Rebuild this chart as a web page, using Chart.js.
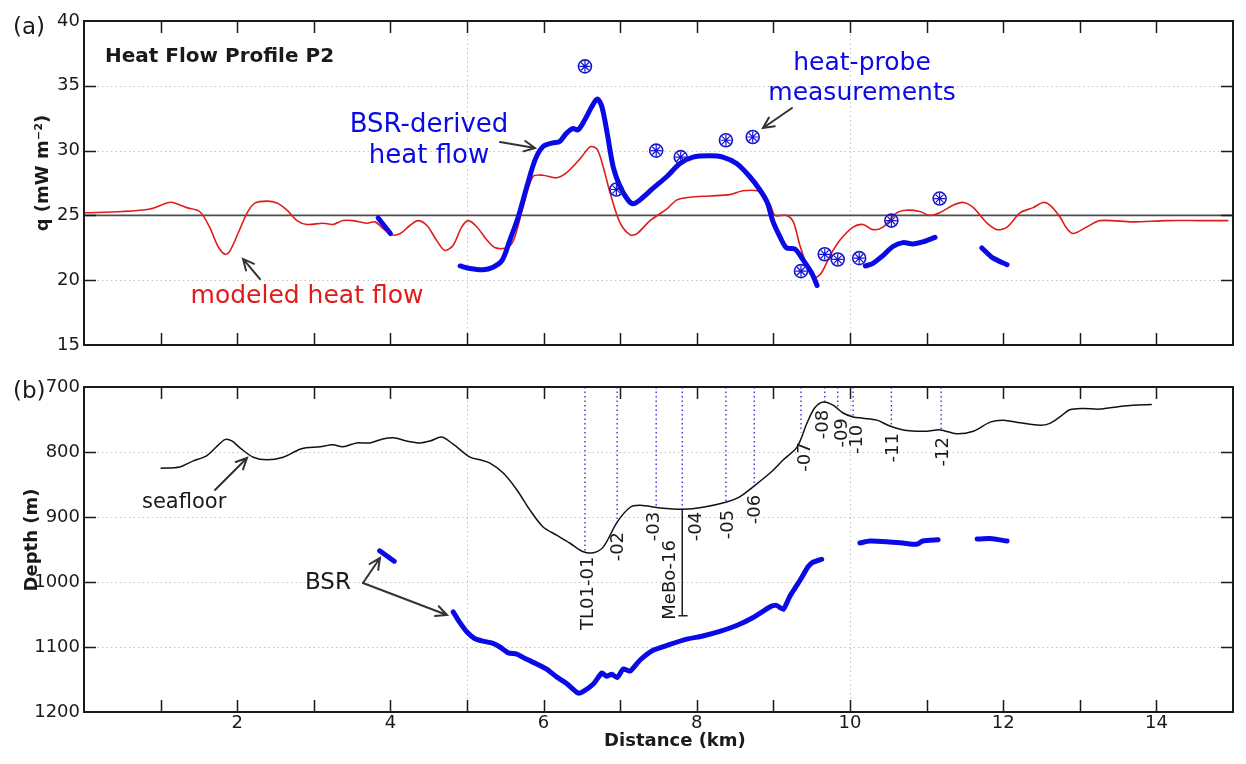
<!DOCTYPE html>
<html>
<head>
<meta charset="utf-8">
<script src="https://cdn.jsdelivr.net/npm/chart.js@4.4.1/dist/chart.umd.min.js"></script>
<style>
  html, body { margin: 0; padding: 0; background: #fff; }
  #wrap { position: relative; width: 1246px; height: 764px; }
  #chartA { position: absolute; left: 0; top: 0; }
  #chartB { position: absolute; left: 0; top: 370px; }
</style>
</head>
<body>
<div id="wrap">
  <canvas id="chartA" width="1246" height="370"></canvas>
  <canvas id="chartB" width="1246" height="394"></canvas>
</div>
<script>
// ---- data ----
// (a) modeled heat flow (mW/m2) along the profile
const modeledKm = [0, 0.5, 0.86, 1.08, 1.16, 1.34, 1.51, 1.64, 1.75, 1.84, 1.9, 2.01, 2.13, 2.23, 2.39, 2.52, 2.65, 2.78, 2.91, 3.12, 3.25, 3.38, 3.51, 3.69, 3.8, 3.9, 4.02, 4.13, 4.25, 4.36, 4.48, 4.6, 4.71, 4.82, 4.93, 5.02, 5.13, 5.26, 5.37, 5.52, 5.61, 5.73, 5.86, 5.99, 6.17, 6.3, 6.48, 6.61, 6.7, 6.78, 6.87, 7.0, 7.13, 7.22, 7.39, 7.61, 7.74, 7.91, 8.17, 8.43, 8.6, 8.79, 8.86, 8.96, 9.02, 9.17, 9.26, 9.35, 9.48, 9.54, 9.63, 9.74, 9.87, 10.04, 10.17, 10.3, 10.43, 10.61, 10.74, 10.91, 11.04, 11.17, 11.35, 11.48, 11.61, 11.79, 11.92, 12.05, 12.22, 12.39, 12.52, 12.61, 12.74, 12.83, 12.91, 13.09, 13.26, 13.69, 14.13, 14.57, 14.94];
const modeledQ = [25.2, 25.3, 25.5, 25.95, 26.0, 25.6, 25.3, 24.1, 22.6, 22.0, 22.2, 23.6, 25.2, 25.95, 26.1, 25.95, 25.4, 24.6, 24.3, 24.4, 24.3, 24.6, 24.6, 24.4, 24.5, 24.0, 23.5, 23.6, 24.2, 24.6, 24.2, 23.1, 22.3, 22.7, 24.1, 24.6, 24.1, 23.1, 22.5, 22.5, 23.1, 25.6, 28.0, 28.1, 27.9, 28.3, 29.4, 30.3, 30.1, 28.7, 26.7, 24.4, 23.5, 23.6, 24.6, 25.5, 26.2, 26.4, 26.5, 26.6, 26.9, 26.9, 26.6, 25.8, 25.0, 25.0, 24.5, 22.6, 20.5, 20.2, 20.6, 21.9, 23.1, 24.1, 24.3, 23.9, 24.1, 25.2, 25.4, 25.3, 25.0, 25.2, 25.8, 26.0, 25.6, 24.4, 23.9, 24.1, 25.2, 25.6, 26.0, 25.8, 24.9, 24.0, 23.6, 24.1, 24.6, 24.5, 24.6, 24.6, 24.6];

// (a) BSR-derived heat flow, one list per segment
const bsrFlowKm = [
  [3.84, 4.0],
  [4.91, 5.04, 5.21, 5.34, 5.46, 5.56, 5.67, 5.78, 5.89, 5.99, 6.12, 6.21, 6.3, 6.38, 6.45, 6.54, 6.63, 6.7, 6.76, 6.83, 6.91, 7.0, 7.1, 7.17, 7.26, 7.43, 7.61, 7.78, 7.95, 8.17, 8.34, 8.52, 8.69, 8.82, 8.92, 8.99, 9.09, 9.17, 9.28, 9.39, 9.5, 9.57],
  [10.2, 10.3, 10.43, 10.56, 10.69, 10.82, 10.95, 11.11],
  [11.72, 11.87, 12.05]
];
const bsrFlowQ = [
  [24.8, 23.6],
  [21.1, 20.9, 20.8, 21.0, 21.55, 23.1, 24.9, 27.2, 29.3, 30.3, 30.6, 30.7, 31.35, 31.7, 31.6, 32.4, 33.4, 33.98, 33.4, 31.35, 28.7, 27.2, 26.2, 25.9, 26.2, 27.1, 28.0, 29.0, 29.5, 29.6, 29.5, 29.0, 28.0, 27.0, 26.0, 24.6, 23.3, 22.5, 22.4, 21.55, 20.55, 19.6],
  [21.1, 21.3, 21.9, 22.6, 22.9, 22.8, 22.95, 23.3],
  [22.5, 21.7, 21.2]
];

// (a) heat-probe measurements
const probeKm = [6.54, 6.95, 7.47, 7.79, 8.38, 8.73, 9.36, 9.67, 9.84, 10.12, 10.54, 11.17];
const probeQ = [36.5, 27.0, 30.0, 29.5, 30.8, 31.05, 20.7, 22.0, 21.6, 21.7, 24.6, 26.3];

// (a) reference level
const refKm = [0, 15];
const refQ = [25, 25];

// (b) seafloor depth (m)
const seafloorKm = [1.0, 1.25, 1.42, 1.6, 1.73, 1.84, 1.93, 2.04, 2.21, 2.39, 2.6, 2.84, 3.08, 3.25, 3.38, 3.56, 3.73, 3.9, 4.04, 4.21, 4.39, 4.52, 4.67, 4.82, 5.04, 5.17, 5.3, 5.47, 5.65, 5.82, 5.99, 6.17, 6.34, 6.51, 6.65, 6.78, 6.96, 7.13, 7.26, 7.52, 7.82, 8.08, 8.39, 8.56, 8.73, 8.96, 9.13, 9.31, 9.44, 9.54, 9.65, 9.78, 9.91, 10.04, 10.17, 10.35, 10.52, 10.74, 11.0, 11.18, 11.39, 11.61, 11.83, 12.0, 12.22, 12.48, 12.61, 12.74, 12.87, 13.04, 13.26, 13.52, 13.69, 13.94];
const seafloorDepth = [825, 823, 814, 806, 792, 781, 783, 794, 808, 812, 808, 795, 792, 789, 792, 786, 786, 780, 778, 783, 786, 783, 777, 788, 808, 812, 817, 832, 858, 889, 915, 928, 940, 953, 955, 946, 908, 885, 882, 886, 888, 885, 877, 869, 854, 832, 812, 792, 755, 732, 723, 728, 740, 746, 748, 751, 760, 767, 768, 766, 772, 768, 754, 751, 755, 759, 756, 746, 735, 733, 734, 730, 728, 727];

// (b) BSR depth, one list per segment
const bsrKm = [
  [3.86, 4.05],
  [4.82, 4.91, 5.0, 5.1, 5.21, 5.33, 5.43, 5.54, 5.65, 5.78, 5.91, 6.04, 6.17, 6.3, 6.45, 6.51, 6.65, 6.76, 6.82, 6.89, 6.96, 7.04, 7.13, 7.26, 7.43, 7.65, 7.87, 8.08, 8.3, 8.52, 8.73, 8.96, 9.04, 9.13, 9.21, 9.35, 9.45, 9.51, 9.63],
  [10.13, 10.26, 10.48, 10.69, 10.87, 10.95, 11.15],
  [11.66, 11.83, 12.05]
];
const bsrDepth = [
  [952, 968],
  [1046, 1063, 1077, 1087, 1091, 1094, 1100, 1109, 1111, 1119, 1126, 1134, 1146, 1156, 1171, 1169, 1157, 1140, 1145, 1142, 1147, 1134, 1137, 1120, 1105, 1096, 1088, 1083, 1076, 1067, 1055, 1038, 1036, 1042, 1023, 997, 977, 970, 965],
  [940, 937, 938, 940, 942, 937, 935],
  [934, 933, 937]
];

// (b) heat-probe stations: position and seafloor depth there
const stationNames = ['TL01-01', '-02', '-03', '-04', '-05', '-06', '-07', '-08', '-09', '-10', '-11', '-12'];
const stationKm = [6.54, 6.96, 7.47, 7.81, 8.38, 8.75, 9.36, 9.67, 9.84, 10.04, 10.54, 11.19];
const stationFloor = [954, 908, 885, 888, 877, 853, 770, 724, 735, 746, 760, 766];

// (b) MeBo-16 borehole
const boreholeKm = 7.81;
const boreholeTop = 888;
const boreholeBottom = 1052;

// tick labels
const qTicks = [15, 20, 25, 30, 35, 40];
const depthTicks = [700, 800, 900, 1000, 1100, 1200];
const xTickLabels = [2, 4, 6, 8, 10, 12, 14];

// ---- helpers ----
const FONT = 'DejaVu Sans';
const BLUE = '#0a0ae6';
const pts = (xs, ys) => xs.map((x, i) => ({ x: x, y: ys[i] }));

function drawText(ctx, s, x, y, o) {
    ctx.save();
    ctx.translate(x, y);
    if (o.rot) ctx.rotate(o.rot);
    ctx.font = o.font;
    ctx.fillStyle = o.color || '#1a1a1a';
    ctx.textAlign = o.align || 'left';
    ctx.textBaseline = o.base || 'alphabetic';
    ctx.fillText(s, 0, 0);
    ctx.restore();
}

function drawArrow(ctx, x1, y1, x2, y2) {
    const ang = Math.atan2(y2 - y1, x2 - x1);
    const len = 12, spread = 0.45;
    ctx.save();
    ctx.strokeStyle = '#333';
    ctx.lineWidth = 2;
    ctx.lineCap = 'round';
    ctx.beginPath();
    ctx.moveTo(x1, y1);
    ctx.lineTo(x2, y2);
    ctx.moveTo(x2 - len * Math.cos(ang - spread), y2 - len * Math.sin(ang - spread));
    ctx.lineTo(x2, y2);
    ctx.lineTo(x2 - len * Math.cos(ang + spread), y2 - len * Math.sin(ang + spread));
    ctx.stroke();
    ctx.restore();
}

// dotted grid, inward ticks and box frame
const frameGrid = {
    id: 'frameGrid',
    beforeDatasetsDraw(chart, args, opts) {
        const { ctx, chartArea: a, scales: { x, y } } = chart;
        ctx.save();
        ctx.strokeStyle = '#c4c4c4';
        ctx.lineWidth = 1;
        ctx.setLineDash([1.5, 3]);
        ctx.beginPath();
        opts.yGrid.forEach(v => {
            const py = Math.round(y.getPixelForValue(v)) + 0.5;
            ctx.moveTo(a.left, py); ctx.lineTo(a.right, py);
        });
        opts.xGrid.forEach(v => {
            const px = Math.round(x.getPixelForValue(v)) + 0.5;
            ctx.moveTo(px, a.top); ctx.lineTo(px, a.bottom);
        });
        ctx.stroke();
        ctx.restore();
    },
    afterDatasetsDraw(chart, args, opts) {
        const { ctx, chartArea: a, scales: { x, y } } = chart;
        const tl = 12;
        ctx.save();
        ctx.strokeStyle = '#1a1a1a';
        ctx.lineWidth = 1.5;
        ctx.beginPath();
        for (let k = 1; k < 15; k++) {
            const px = Math.round(x.getPixelForValue(k)) + 0.5;
            ctx.moveTo(px, a.top); ctx.lineTo(px, a.top + tl);
            ctx.moveTo(px, a.bottom); ctx.lineTo(px, a.bottom - tl);
        }
        opts.yTicks.forEach(v => {
            const py = Math.round(y.getPixelForValue(v)) + 0.5;
            ctx.moveTo(a.left, py); ctx.lineTo(a.left + tl, py);
            ctx.moveTo(a.right, py); ctx.lineTo(a.right - tl, py);
        });
        ctx.stroke();
        ctx.lineWidth = 2;
        ctx.strokeRect(a.left, a.top, a.right - a.left, a.bottom - a.top);
        ctx.restore();
    }
};

// labels and arrows, placed in data units
const notes = {
    id: 'notes',
    afterDraw(chart, args, opts) {
        const { ctx, scales: { x, y } } = chart;
        opts.arrows.forEach(ar => {
            drawArrow(ctx, x.getPixelForValue(ar[0]), y.getPixelForValue(ar[1]),
                x.getPixelForValue(ar[2]), y.getPixelForValue(ar[3]));
        });
        opts.texts.forEach(t => {
            drawText(ctx, t.s, x.getPixelForValue(t.x), y.getPixelForValue(t.y), t);
        });
    }
};

// ---- panel (a) ----
const dsA = [];
dsA.push({ data: pts(probeKm, probeQ), showLine: false, pointStyle: 'star', pointRadius: 5.5,
    pointBorderColor: '#1515d0', pointBorderWidth: 1.2 });
dsA.push({ data: pts(probeKm, probeQ), showLine: false, pointStyle: 'circle', pointRadius: 6.5,
    pointBorderColor: '#1515d0', pointBackgroundColor: 'rgba(255,255,255,0)', pointBorderWidth: 1.6 });
bsrFlowKm.forEach((seg, i) => {
    dsA.push({ data: pts(seg, bsrFlowQ[i]), borderColor: BLUE, borderWidth: 5, pointRadius: 0,
        tension: 0.3, borderCapStyle: 'round', borderJoinStyle: 'round' });
});
dsA.push({ data: pts(modeledKm, modeledQ), borderColor: '#e01b1b', borderWidth: 1.6, pointRadius: 0, tension: 0.3 });
dsA.push({ data: pts(refKm, refQ), borderColor: '#4d4d4d', borderWidth: 1.6, pointRadius: 0 });

new Chart(document.getElementById('chartA'), {
    type: 'line',
    data: { datasets: dsA },
    options: {
        responsive: false,
        animation: false,
        layout: { padding: { top: 21, right: 13, bottom: 25, left: 0 } },
        plugins: {
            legend: { display: false },
            tooltip: { enabled: false },
            frameGrid: { xGrid: [5, 10], yGrid: [20, 30, 35], yTicks: qTicks.slice(1, -1) },
            notes: {
                arrows: [[5.431, 30.66, 5.888, 30.20], [9.243, 33.29, 8.864, 31.74], [2.298, 20.09, 2.076, 21.64]],
                texts: [
                    { s: '(a)', x: -0.927, y: 39.46, font: '23px ' + FONT, base: 'middle' },
                    { s: 'Heat Flow Profile P2', x: 0.274, y: 36.84, font: 'bold 20px ' + FONT },
                    { s: 'BSR-derived', x: 4.504, y: 31.44, font: '26px ' + FONT, color: BLUE, align: 'center' },
                    { s: 'heat flow', x: 4.504, y: 29.04, font: '26px ' + FONT, color: BLUE, align: 'center' },
                    { s: 'heat-probe', x: 10.157, y: 36.22, font: '25px ' + FONT, color: BLUE, align: 'center' },
                    { s: 'measurements', x: 10.157, y: 33.90, font: '25px ' + FONT, color: BLUE, align: 'center' },
                    { s: 'modeled heat flow', x: 2.911, y: 18.24, font: '25px ' + FONT, color: '#e01b1b', align: 'center' },
                    { s: 'q (mW m\u207B\u00B2)', x: -0.535, y: 28.27, font: 'bold 18px ' + FONT, align: 'center',
                        base: 'middle', rot: -Math.PI / 2 }
                ]
            }
        },
        scales: {
            x: { type: 'linear', min: 0, max: 15, display: false },
            y: {
                min: 15, max: 40,
                afterFit: s => { s.width = 84; },
                afterBuildTicks: s => { s.ticks = qTicks.map(v => ({ value: v })); },
                ticks: { padding: 4, color: '#1a1a1a', font: { family: FONT, size: 18 }, callback: v => String(v) },
                grid: { display: false, drawTicks: false },
                border: { display: false }
            }
        }
    },
    plugins: [frameGrid, notes]
});

// ---- panel (b) ----
const dsB = [];
bsrKm.forEach((seg, i) => {
    dsB.push({ data: pts(seg, bsrDepth[i]), borderColor: BLUE, borderWidth: 5, pointRadius: 0,
        tension: 0.2, borderCapStyle: 'round', borderJoinStyle: 'round' });
});
dsB.push({ data: pts(seafloorKm, seafloorDepth), borderColor: '#111', borderWidth: 1.5, pointRadius: 0, tension: 0.3 });
stationKm.forEach((km, i) => {
    dsB.push({ data: [{ x: km, y: 700 }, { x: km, y: stationFloor[i] }], borderColor: '#3535e0',
        borderWidth: 1.4, borderDash: [1.5, 3], pointRadius: 0 });
});
dsB.push({ data: [{ x: boreholeKm, y: boreholeTop }, { x: boreholeKm, y: boreholeBottom },
    { x: boreholeKm - 0.05, y: boreholeBottom }, { x: boreholeKm + 0.07, y: boreholeBottom }],
    borderColor: '#222', borderWidth: 1.5, pointRadius: 0 });

// station label anchors (text top, in km / m)
const stationLabelPos = [[6.58, 961], [6.97, 923], [7.44, 892], [7.995, 892], [8.407, 889], [8.76, 866],
    [9.413, 785], [9.648, 735], [9.896, 748], [10.094, 758], [10.564, 771], [11.217, 777]];
const textsB = [
    { s: '(b)', x: -0.927, y: 707.7, font: '23px ' + FONT, base: 'middle' },
    { s: 'seafloor', x: 0.757, y: 886.2, font: '21px ' + FONT },
    { s: 'BSR', x: 2.885, y: 1010.8, font: '23px ' + FONT },
    { s: 'MeBo-16', x: 7.65, y: 935.4, font: '18px ' + FONT, align: 'right', base: 'middle', rot: -Math.PI / 2 },
    { s: 'Depth (m)', x: -0.679, y: 935.4, font: 'bold 18px ' + FONT, align: 'center', base: 'middle', rot: -Math.PI / 2 },
    { s: 'Distance (km)', x: 7.715, y: 1244.6, font: 'bold 18px ' + FONT, align: 'center', base: 'middle' }
];
stationNames.forEach((n, i) => {
    textsB.push({ s: n, x: stationLabelPos[i][0], y: stationLabelPos[i][1], font: '18px ' + FONT,
        align: 'right', base: 'middle', rot: -Math.PI / 2 });
});

new Chart(document.getElementById('chartB'), {
    type: 'line',
    data: { datasets: dsB },
    options: {
        responsive: false,
        animation: false,
        layout: { padding: { top: 17, right: 13, bottom: 0, left: 0 } },
        plugins: {
            legend: { display: false },
            tooltip: { enabled: false },
            frameGrid: { xGrid: [5, 10], yGrid: [800, 900, 1000, 1100], yTicks: depthTicks.slice(1, -1) },
            notes: {
                arrows: [[1.710, 858.5, 2.128, 809.2], [3.642, 1001.5, 3.864, 963.1], [3.642, 1001.5, 4.739, 1050.8]],
                texts: textsB
            }
        },
        scales: {
            x: {
                type: 'linear', min: 0, max: 15,
                afterFit: s => { s.height = 52; },
                ticks: {
                    stepSize: 1, autoSkip: false, maxRotation: 0, padding: 1,
                    color: '#1a1a1a', font: { family: FONT, size: 18 },
                    callback: v => xTickLabels.includes(v) ? String(v) : ''
                },
                grid: { display: false, drawTicks: false },
                border: { display: false }
            },
            y: {
                reverse: true, min: 700, max: 1200,
                afterFit: s => { s.width = 84; },
                afterBuildTicks: s => { s.ticks = depthTicks.map(v => ({ value: v })); },
                ticks: { padding: 4, color: '#1a1a1a', font: { family: FONT, size: 18 }, callback: v => String(v) },
                grid: { display: false, drawTicks: false },
                border: { display: false }
            }
        }
    },
    plugins: [frameGrid, notes]
});
</script>
</body>
</html>
